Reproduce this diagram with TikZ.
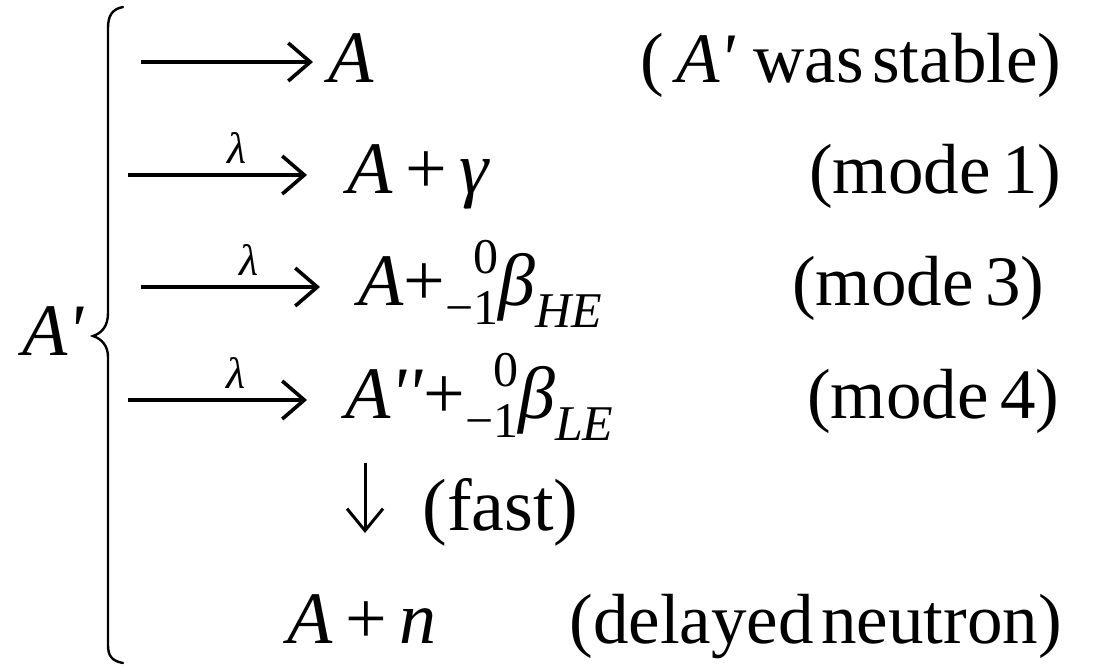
\documentclass[tikz,border=0pt]{standalone}
\usepackage{fontspec}
\setmainfont{Liberation Serif}
\usetikzlibrary{arrows.meta}

\newcommand{\vr}[1]{\textit{#1}}
\newcommand{\pr}{\textquotesingle}
\newcommand{\subfont}{\fontsize{25}{27}\selectfont}
\newcommand{\remfont}{\fontsize{35.5}{40}\selectfont}
% nuclide prescripts: #1 upper, #2 lower
\newcommand{\nucl}[2]{%
  \setbox0\hbox{\subfont #2}\setbox2\hbox{\subfont #1}%
  \raisebox{-0.27em}{\copy0}\kern-\wd2\raisebox{0.42em}{\copy2}}
\newcommand{\sbs}[1]{\raisebox{-0.3em}{\subfont\itshape #1}}

\begin{document}
\begin{tikzpicture}[x=0.5pt, y=-0.5pt, font=\fontsize{37}{44}\selectfont,
  txt/.style={inner sep=0pt, anchor=base west},
  rhs/.style={inner sep=0pt, anchor=base east, font=\remfont},
  rxn/.style={-{Straight Barb[length=11pt,width=19pt]}, line width=1.8pt},
  fastarr/.style={-{Straight Barb[length=11pt,width=18pt]}, line width=1.5pt},
  rate/.style={above=5pt, inner sep=0pt, font=\fontsize{22}{24}\selectfont\itshape},
  brace/.style={line width=1.2pt, line cap=round},
]
\useasboundingbox (0,0) rectangle (1098,666);

% ---------------- parent and brace ----------------
\node[txt] (par) at (22,355) {\vr{A\pr}};
\draw[brace] (123,7) .. controls (112,9) and (108,16) .. (108,28) -- (108,313)
  .. controls (108,326) and (102,333) .. (93,336)
  .. controls (102,339) and (108,346) .. (108,357) -- (108,645)
  .. controls (108,656) and (112,661) .. (123,663);

% ---------------- decay branches ----------------
\coordinate (s1) at (141,62);
\node[txt] (p1) at (328,82) {\vr{A}};
\draw[rxn, shorten >=7.5pt] (s1) -- (s1 -| p1.west);

\coordinate (s2) at (128,175);
\node[txt] (p2) at (347,193) {\vr{A}\,+\,\vr{γ}};
\draw[rxn, shorten >=20pt] (s2) -- node[rate] (l2) {λ} (s2 -| p2.west);

\coordinate (s3) at (141,287);
\node[txt] (p3) at (358,305) {\vr{A}+\nucl{0}{−1}\vr{β}\sbs{HE}};
\draw[rxn, shorten >=19pt] (s3) -- node[rate] (l3) {λ} (s3 -| p3.west);

\coordinate (s4) at (128,400);
\node[txt] (p4) at (345,418) {\vr{A\pr\pr}+\nucl{0}{−1}\vr{β}\sbs{LE}};
\draw[rxn, shorten >=19pt] (s4) -- node[rate] (l4) {λ} (s4 -| p4.west);

% delayed neutron
\coordinate (d1) at (365,463);
\coordinate (d2) at (365,533);
\draw[fastarr] (d1) -- (d2);
\node[txt] (fast) at (422,530) {(fast)};
\node[txt] (p6) at (287,643) {\vr{A}\,+\,\vr{n}};

% ---------------- remarks ----------------
\node[rhs] (c1) at (1062,82) {(\,\vr{A\pr} was\hspace{0.12em}stable)};
\node[rhs] (c2) at (1062,193) {(mode\,1)};
\node[rhs] (c3) at (1045,305) {(mode\,3)};
\node[rhs] (c4) at (1060,418) {(mode\,4)};
\node[rhs] (c6) at (1062,643) {(delayed\hspace{0.1em}neutron)};
\end{tikzpicture}
\end{document}
